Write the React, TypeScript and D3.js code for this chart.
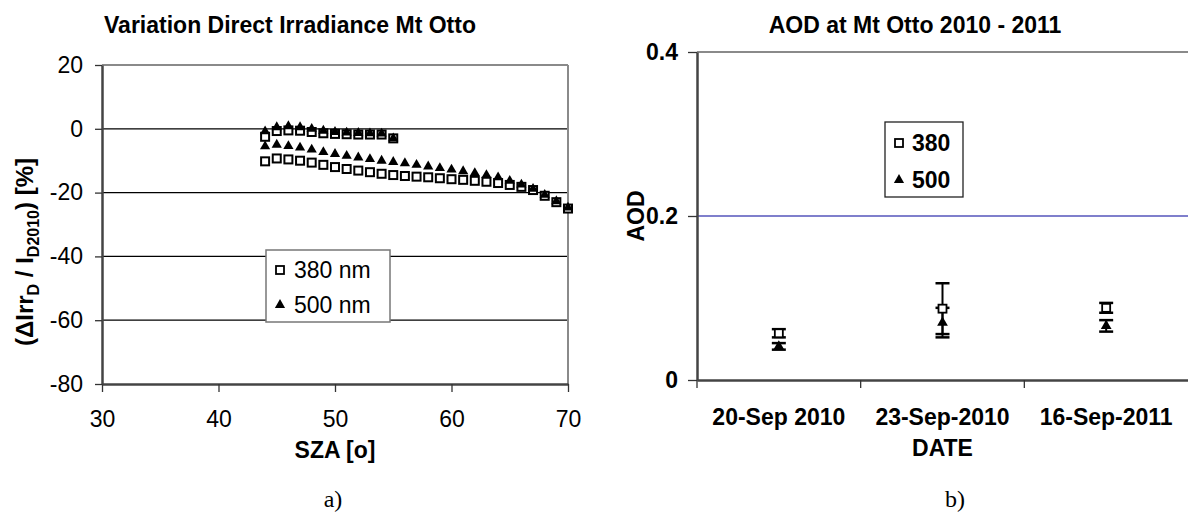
import React, { useEffect, useRef } from "react";
import * as d3 from "d3";

// panel a) : relative change of direct irradiance vs SZA
const szaUpper = [44, 45, 46, 47, 48, 49, 50, 51, 52, 53, 54, 55];
const upper380 = [-2.5, -0.7, -0.5, -0.6, -1.0, -1.4, -1.6, -1.7, -1.8, -1.8, -1.8, -3.0];
const upper500 = [-0.8, 0.5, 0.8, 0.5, 0.0, -0.6, -1.0, -1.2, -1.3, -1.4, -1.5, -3.0];

const szaLower = [44, 45, 46, 47, 48, 49, 50, 51, 52, 53, 54, 55, 56, 57, 58, 59, 60, 61, 62, 63, 64, 65, 66, 67, 68, 69, 70];
const lower380 = [-10.2, -9.3, -9.6, -10.0, -10.6, -11.3, -12.0, -12.6, -13.1, -13.6, -14.1, -14.5, -14.8, -15.0, -15.2, -15.5, -15.8, -16.0, -16.3, -16.6, -17.0, -17.6, -18.2, -19.2, -21.0, -23.0, -25.0];
const lower500 = [-5.5, -5.0, -5.4, -5.9, -6.5, -7.3, -7.9, -8.5, -9.0, -9.5, -10.0, -10.4, -10.8, -11.3, -11.8, -12.3, -12.8, -13.3, -13.9, -14.5, -15.2, -16.3, -17.5, -18.8, -20.7, -22.7, -24.7];

const leftXTicks = [30, 40, 50, 60, 70];
const leftYTicks = [20, 0, -20, -40, -60, -80];
const leftGrid = [0, -20, -40, -60];

// panel b) : AOD per date
const dates = ["20-Sep 2010", "23-Sep-2010", "16-Sep-2011"];
const aod380 = [0.057, 0.087, 0.088];
const err380 = [0.005, 0.031, 0.006];
const aod500 = [0.041, 0.070, 0.066];
const err500 = [0.004, 0.018, 0.007];
const rightYTicks = [0, 0.2, 0.4];

const SANS = "'Liberation Sans', Arial, sans-serif";
const SERIF = "'Liberation Serif', 'Times New Roman', serif";

export default function App() {
  const ref = useRef<SVGSVGElement | null>(null);

  useEffect(() => {
    const svg = d3.select(ref.current).attr("width", 1188).attr("height", 515);
    svg.selectAll("*").remove();
    svg.append("rect").attr("width", 1188).attr("height", 515).attr("fill", "#fff");

    const tri = d3.symbol().type(d3.symbolTriangle);

    // ---------- left chart ----------
    const x = d3.scaleLinear().domain([30, 70]).range([102, 568]);
    const y = d3.scaleLinear().domain([-80, 20]).range([384, 65]);
    const L = svg.append("g");

    leftGrid.forEach((v) => {
      L.append("line")
        .attr("x1", x(30)).attr("x2", x(70))
        .attr("y1", y(v)).attr("y2", y(v))
        .attr("stroke", "#000").attr("stroke-width", 1.3);
    });
    // frame
    L.append("line").attr("x1", x(30)).attr("x2", x(70)).attr("y1", y(20)).attr("y2", y(20))
      .attr("stroke", "#8a8a8a").attr("stroke-width", 2);
    L.append("line").attr("x1", x(70)).attr("x2", x(70)).attr("y1", y(20)).attr("y2", y(-80))
      .attr("stroke", "#8a8a8a").attr("stroke-width", 2);

    const lx = L.append("g").attr("transform", `translate(0,${y(-80)})`)
      .call(d3.axisBottom(x).tickValues(leftXTicks).tickFormat((d) => String(d))
        .tickSize(8).tickSizeOuter(0).tickPadding(19));
    const ly = L.append("g").attr("transform", `translate(${x(30)},0)`)
      .call(d3.axisLeft(y).tickValues(leftYTicks).tickFormat((d) => String(d))
        .tickSize(7).tickSizeOuter(0).tickPadding(12));
    [lx, ly].forEach((a) => {
      a.select(".domain").attr("stroke", "#444").attr("stroke-width", 2.5);
      a.selectAll("line").attr("stroke", "#333").attr("stroke-width", 1.3);
      a.selectAll("text").attr("font-family", SANS).attr("font-size", 23).attr("fill", "#000");
    });

    const sq = (g: any, xs: number[], ys: number[]) =>
      g.selectAll(null).data(xs.map((d, i) => [d, ys[i]])).join("rect")
        .attr("x", (d: number[]) => x(d[0]) - 4).attr("y", (d: number[]) => y(d[1]) - 4)
        .attr("width", 8).attr("height", 8)
        .attr("fill", "#fff").attr("stroke", "#000").attr("stroke-width", 2);
    const tr = (g: any, xs: number[], ys: number[]) =>
      g.selectAll(null).data(xs.map((d, i) => [d, ys[i]])).join("path")
        .attr("d", tri.size(45)())
        .attr("transform", (d: number[]) => `translate(${x(d[0])},${y(d[1])})`)
        .attr("fill", "#000");

    const pts = L.append("g");
    sq(pts, szaLower, lower380);
    tr(pts, szaLower, lower500);
    sq(pts, szaUpper, upper380);
    tr(pts, szaUpper, upper500);

    // legend a)
    const lg = L.append("g").attr("transform", "translate(266,250)");
    lg.append("rect").attr("width", 124).attr("height", 72).attr("fill", "#fff")
      .attr("stroke", "#777").attr("stroke-width", 1.5);
    lg.append("rect").attr("x", 10).attr("y", 16).attr("width", 8).attr("height", 8)
      .attr("fill", "#fff").attr("stroke", "#000").attr("stroke-width", 1.8);
    lg.append("path").attr("d", tri.size(45)()).attr("transform", "translate(14,55)").attr("fill", "#000");
    lg.append("text").attr("x", 28).attr("y", 28).text("380 nm")
      .attr("font-family", SANS).attr("font-size", 23);
    lg.append("text").attr("x", 28).attr("y", 63).text("500 nm")
      .attr("font-family", SANS).attr("font-size", 23);

    L.append("text").attr("x", 290).attr("y", 33).attr("text-anchor", "middle")
      .attr("font-family", SANS).attr("font-weight", 700).attr("font-size", 23)
      .text("Variation Direct Irradiance Mt Otto");
    L.append("text").attr("x", x(50)).attr("y", 458).attr("text-anchor", "middle")
      .attr("font-family", SANS).attr("font-weight", 700).attr("font-size", 23)
      .text("SZA [o]");
    const yl = L.append("text").attr("transform", "translate(33,252) rotate(-90)")
      .attr("text-anchor", "middle").attr("font-family", SANS).attr("font-weight", 700).attr("font-size", 24);
    yl.append("tspan").text("(\u0394Irr");
    yl.append("tspan").attr("dy", 6).attr("font-size", 16).text("D");
    yl.append("tspan").attr("dy", -6).text(" / I");
    yl.append("tspan").attr("dy", 6).attr("font-size", 16).text("D2010");
    yl.append("tspan").attr("dy", -6).text(") [%]");
    L.append("text").attr("x", 333).attr("y", 507).attr("text-anchor", "middle")
      .attr("font-family", SERIF).attr("font-size", 24).text("a)");

    // ---------- right chart ----------
    const xb = d3.scaleBand().domain(dates).range([697, 1188]);
    const yb = d3.scaleLinear().domain([0, 0.4]).range([380, 52]);
    const R = svg.append("g");

    R.append("line").attr("x1", 697).attr("x2", 1188).attr("y1", yb(0.2)).attr("y2", yb(0.2))
      .attr("stroke", "#5555bb").attr("stroke-width", 1.3);
    R.append("line").attr("x1", 697).attr("x2", 1188).attr("y1", yb(0.4)).attr("y2", yb(0.4))
      .attr("stroke", "#8a8a8a").attr("stroke-width", 2);

    const rx = R.append("g").attr("transform", `translate(0,${yb(0)})`)
      .call(d3.axisBottom(xb).tickSize(0).tickSizeOuter(0).tickPadding(29));
    const ry = R.append("g").attr("transform", "translate(697,0)")
      .call(d3.axisLeft(yb).tickValues(rightYTicks).tickFormat(d3.format("~g")).tickSize(9).tickSizeOuter(0).tickPadding(10));
    [rx, ry].forEach((a) => {
      a.select(".domain").attr("stroke", "#444").attr("stroke-width", 2.5);
      a.selectAll("line").attr("stroke", "#333").attr("stroke-width", 1.3);
      a.selectAll("text").attr("font-family", SANS).attr("font-weight", 700)
        .attr("font-size", 23).attr("fill", "#000");
    });
    // category separators
    R.selectAll(null).data(dates).join("line")
      .attr("x1", (d) => xb(d)!).attr("x2", (d) => xb(d)!)
      .attr("y1", yb(0)).attr("y2", yb(0) + 8)
      .attr("stroke", "#333").attr("stroke-width", 1.3);

    const cx = (d: string) => xb(d)! + xb.bandwidth() / 2;
    const eb = R.append("g");
    const bars = (vals: number[], errs: number[]) => {
      dates.forEach((d, i) => {
        const c = cx(d);
        const lo = yb(vals[i] - errs[i]);
        const hi = yb(vals[i] + errs[i]);
        eb.append("line").attr("x1", c).attr("x2", c).attr("y1", lo).attr("y2", hi)
          .attr("stroke", "#000").attr("stroke-width", 2);
        [lo, hi].forEach((yy) =>
          eb.append("line").attr("x1", c - 7).attr("x2", c + 7).attr("y1", yy).attr("y2", yy)
            .attr("stroke", "#000").attr("stroke-width", 2.5));
      });
    };
    bars(aod380, err380);
    bars(aod500, err500);
    R.selectAll(null).data(dates).join("path")
      .attr("d", tri.size(50)())
      .attr("transform", (d, i) => `translate(${cx(d)},${yb(aod500[i])})`)
      .attr("fill", "#000");
    R.selectAll(null).data(dates).join("rect")
      .attr("x", (d) => cx(d) - 4).attr("y", (d, i) => yb(aod380[i]) - 4)
      .attr("width", 8).attr("height", 8)
      .attr("fill", "#fff").attr("stroke", "#000").attr("stroke-width", 1.8);

    // legend b)
    const rg = R.append("g").attr("transform", "translate(885,122)");
    rg.append("rect").attr("width", 78).attr("height", 75).attr("fill", "#fff")
      .attr("stroke", "#222").attr("stroke-width", 1.3);
    rg.append("rect").attr("x", 10).attr("y", 17).attr("width", 8).attr("height", 8)
      .attr("fill", "#fff").attr("stroke", "#000").attr("stroke-width", 1.8);
    rg.append("path").attr("d", tri.size(45)()).attr("transform", "translate(14,58)").attr("fill", "#000");
    rg.append("text").attr("x", 27).attr("y", 29).text("380")
      .attr("font-family", SANS).attr("font-weight", 700).attr("font-size", 23);
    rg.append("text").attr("x", 27).attr("y", 66).text("500")
      .attr("font-family", SANS).attr("font-weight", 700).attr("font-size", 23);

    R.append("text").attr("x", 915).attr("y", 33).attr("text-anchor", "middle")
      .attr("font-family", SANS).attr("font-weight", 700).attr("font-size", 23)
      .text("AOD at Mt Otto 2010 - 2011");
    R.append("text").attr("x", cx(dates[1])).attr("y", 456).attr("text-anchor", "middle")
      .attr("font-family", SANS).attr("font-weight", 700).attr("font-size", 23)
      .text("DATE");
    R.append("text").attr("transform", `translate(644,${yb(0.2)}) rotate(-90)`)
      .attr("text-anchor", "middle").attr("font-family", SANS).attr("font-weight", 700)
      .attr("font-size", 23).text("AOD");
    R.append("text").attr("x", 955).attr("y", 507).attr("text-anchor", "middle")
      .attr("font-family", SERIF).attr("font-size", 24).text("b)");
  }, []);

  return (
    <svg ref={ref} style={{ position: "absolute", left: 0, top: 0, display: "block" }} />
  );
}
